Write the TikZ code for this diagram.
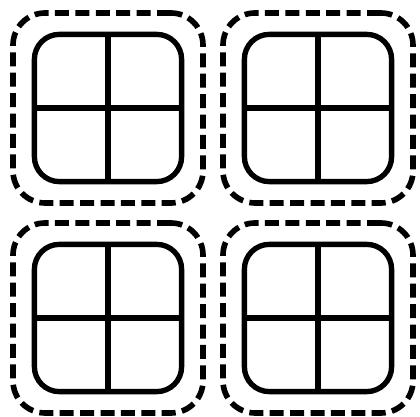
\documentclass[tikz,border=0pt]{standalone}
\usetikzlibrary{positioning}
\begin{document}
\begin{tikzpicture}[
  node distance=0.5cm and 0.5cm,
  zone/.style={draw=black, line width=4pt, dash pattern=on 0.35cm off 0.16cm,
               rounded corners=0.8cm, minimum width=4.75cm, minimum height=4.75cm,
               inner sep=0pt, outer sep=0pt},
  pane/.style={draw=black, line width=3.8pt, rounded corners=0.62cm,
               minimum width=3.68cm, minimum height=3.68cm,
               inner sep=0pt, outer sep=0pt},
  bar/.style={black, line width=3.6pt},
]
\useasboundingbox (0,0) rectangle (10.5,10.425);

% Zonas tracejadas (2x2)
\node[zone] (z1) at (2.7,7.725) {};
\node[zone, right=of z1] (z2) {};
\node[zone, below=of z1] (z3) {};
\node[zone, right=of z3] (z4) {};

% Janelas internas com cruz
\foreach \i in {1,...,4}{
  \node[pane] (p\i) at (z\i.center) {};
  \draw[bar] (p\i.north) -- (p\i.south);
  \draw[bar] (p\i.west) -- (p\i.east);
}

\end{tikzpicture}
\end{document}
